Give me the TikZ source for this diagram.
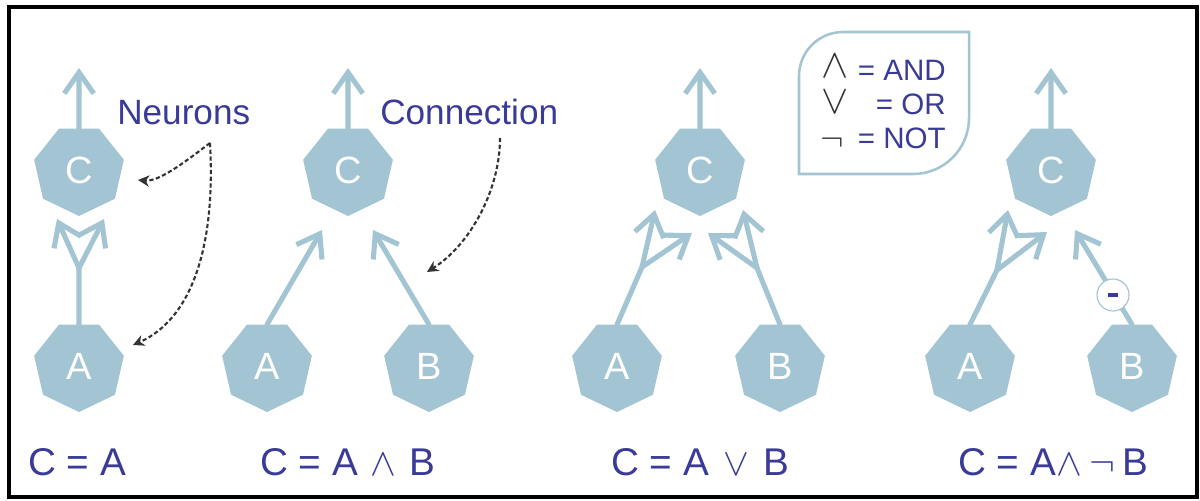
\RequirePackage{fix-cm}
\documentclass[tikz,border=0pt]{standalone}
\usepackage{fontspec}
\setmainfont{Liberation Sans}
\usetikzlibrary{arrows.meta,shapes.geometric}
\definecolor{nblue}{RGB}{163,196,210}
\definecolor{tblue}{RGB}{58,58,153}
\definecolor{dgray}{RGB}{51,51,51}
\newcommand{\lwedge}{\ensuremath{\wedge}}
\newcommand{\lvee}{\ensuremath{\vee}}
\newcommand{\lneg}{\ensuremath{\neg}}
\tikzset{
  neuron/.style={regular polygon, regular polygon sides=7, shape border rotate=180,
    fill=nblue, draw=none, minimum size=2.3cm, inner sep=0pt, outer sep=0pt,
    text=white, font=\fontsize{27}{30}\selectfont},
  conn/.style={draw=nblue, line width=3.6pt, line cap=round, line join=round},
  connarrow/.style={conn, -{Straight Barb[length=15pt,width=21pt]}},
  pointer/.style={draw=dgray, line width=1.5pt, dash pattern=on 3pt off 1.8pt,
    -{Stealth[length=8pt,width=8pt,inset=2.5pt]}},
  lbl/.style={text=tblue, font=\fontsize{25}{30}\selectfont, inner sep=0pt, anchor=base west},
  formula/.style={text=tblue, font=\fontsize{27.5}{30}\selectfont, inner sep=0pt, anchor=base west},
  legtext/.style={text=tblue, font=\fontsize{21}{25}\selectfont, inner sep=0pt, anchor=base east},
  legsym/.style={text=dgray, font=\fontsize{29}{32}\selectfont, inner sep=0pt, anchor=base west},
  legneg/.style={text=dgray, font=\fontsize{25}{26}\selectfont, inner sep=0pt, anchor=base west},
  legbox/.style={draw=nblue, line width=1.8pt},
  minusnode/.style={circle, draw=nblue, line width=0.8pt, fill=white, minimum size=0.8cm, inner sep=0pt},
  minusbar/.style={draw=tblue, line width=2.3pt}
}
\begin{document}
\begin{tikzpicture}[x=0.025cm, y=-0.025cm]
\useasboundingbox (0,0) rectangle (1200,500);
\draw[line width=2.9pt] (9,7) rectangle (1197,497);

% ---------- Panel 1 ----------
\node[neuron] (C1) at (79,170) {C};
\node[neuron] (A1) at (79,366) {A};
\coordinate (o1) at (79,68);
\coordinate (j1) at (79,268);
\coordinate (t1a) at (57,219);
\coordinate (t1b) at (104,219);
\draw[connarrow] (C1.90) -- (o1);
\draw[conn] (A1.90) -- (j1);
\draw[connarrow] (j1) -- (t1a);
\draw[connarrow] (j1) -- (t1b);
\node[lbl] (neurons) at (117,124) {Neurons};
\coordinate (s1) at (210,143);
\coordinate (p1a) at (138,180);
\coordinate (p1b) at (133,345);
\draw[pointer] (s1) .. controls (190,158) and (160,182) .. (p1a);
\draw[pointer] (s1) .. controls (216,250) and (190,320) .. (p1b);
\node[formula] (f1) at (28,475) {C = A};

% ---------- Panel 2 ----------
\node[neuron] (C2) at (348,170) {C};
\node[neuron] (A2) at (267,366) {A};
\node[neuron] (B2) at (429,366) {B};
\coordinate (o2) at (348,68);
\coordinate (t2a) at (322,230);
\coordinate (t2b) at (373,230);
\draw[connarrow] (C2.90) -- (o2);
\draw[connarrow] (A2.90) -- (t2a);
\draw[connarrow] (B2.90) -- (t2b);
\node[lbl] (connection) at (380,124) {Connection};
\coordinate (s2) at (500,138);
\coordinate (p2) at (427,272);
\draw[pointer] (s2) .. controls (500,190) and (470,245) .. (p2);
\node[formula] (f2) at (260,475) {C = A \hspace{1.5pt}\lwedge\hspace{1.5pt} B};

% ---------- Panel 3 ----------
\node[neuron] (C3) at (700,170) {C};
\node[neuron] (A3) at (617,366) {A};
\node[neuron] (B3) at (780,366) {B};
\coordinate (o3) at (700,68);
\coordinate (j3a) at (642,267);
\coordinate (j3b) at (757,268);
\coordinate (t3a) at (655,210);
\coordinate (t3b) at (692,233);
\coordinate (t3c) at (743,210);
\coordinate (t3d) at (708,233);
\draw[connarrow] (C3.90) -- (o3);
\draw[conn] (A3.90) -- (j3a);
\draw[connarrow] (j3a) -- (t3a);
\draw[connarrow] (j3a) -- (t3b);
\draw[conn] (B3.90) -- (j3b);
\draw[connarrow] (j3b) -- (t3c);
\draw[connarrow] (j3b) -- (t3d);
\node[formula] (f3) at (611,475) {C = A \hspace{2.5pt}\lvee\hspace{2.5pt} B};

% ---------- Legend ----------
\draw[legbox] (799,174) [rounded corners=1.1cm] -- (799,32) [sharp corners] -- (969,32)
  [rounded corners=1.4cm] -- (969,174) [sharp corners] -- cycle;
\node[legsym] (sand) at (821,77) {\lwedge};
\node[legsym] (sor) at (821,113) {\lvee};
\node[legneg] (snot) at (820,150) {\lneg};
\node[legtext] (tand) at (946,80) {= AND};
\node[legtext] (tor) at (946,114) {= OR};
\node[legtext] (tnot) at (946,148) {= NOT};

% ---------- Panel 4 ----------
\node[neuron] (C4) at (1051,170) {C};
\node[neuron] (A4) at (970,366) {A};
\node[neuron] (B4) at (1132,366) {B};
\coordinate (o4) at (1051,68);
\coordinate (j4) at (997,270);
\coordinate (t4a) at (1008,210);
\coordinate (t4b) at (1047,232);
\coordinate (t4c) at (1075,230);
\draw[connarrow] (C4.90) -- (o4);
\draw[conn] (A4.90) -- (j4);
\draw[connarrow] (j4) -- (t4a);
\draw[connarrow] (j4) -- (t4b);
\draw[connarrow] (B4.90) -- (t4c);
\node[minusnode] (m) at (1113,295) {};
\draw[minusbar] ([xshift=-3.6pt]m.center) -- ([xshift=3.6pt]m.center);
\node[formula] (f4) at (958,475) {C = A\hspace{0.5pt}\lwedge\hspace{5pt}\lneg\hspace{5pt}B};
\end{tikzpicture}
\end{document}
